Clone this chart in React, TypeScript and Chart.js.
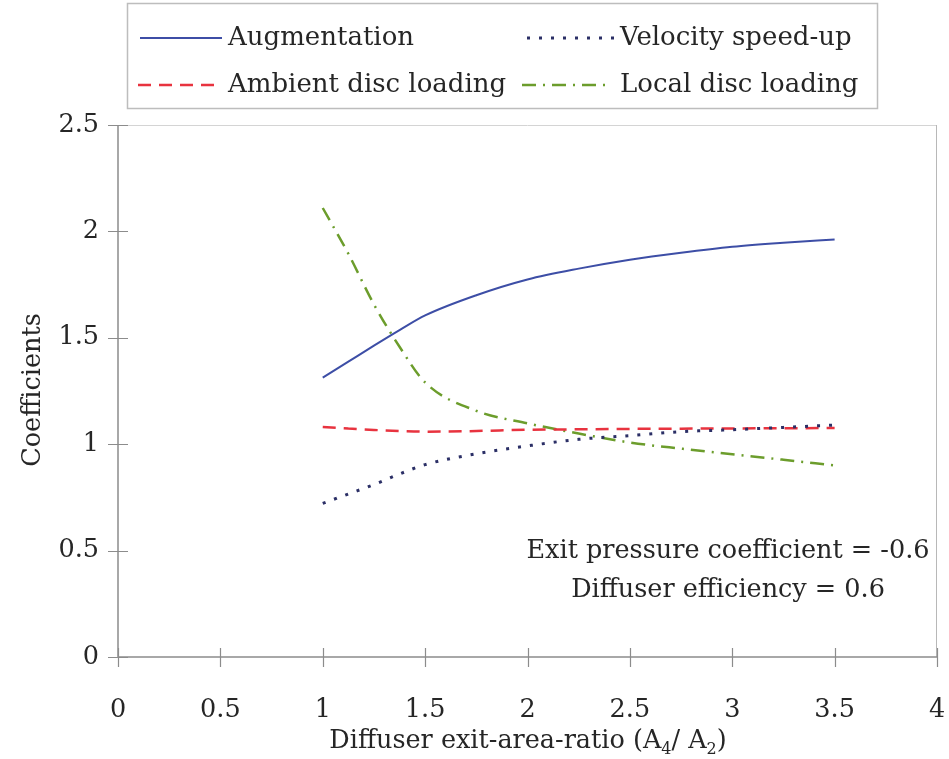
import React, { useEffect, useRef } from "react";
import { Chart, registerables } from "chart.js";

Chart.register(...registerables);

// ---- Data ----
const xValues = [1, 1.125, 1.25, 1.375, 1.5, 1.75, 2, 2.25, 2.5, 2.75, 3, 3.25, 3.5];
const augmentation = [1.313, 1.388, 1.463, 1.536, 1.605, 1.7, 1.774, 1.825, 1.867, 1.9, 1.928, 1.947, 1.962];
const velocitySpeedUp = [0.722, 0.766, 0.81, 0.86, 0.904, 0.955, 0.992, 1.023, 1.04, 1.059, 1.068, 1.079, 1.09];
const ambientDiscLoading = [1.081, 1.074, 1.067, 1.062, 1.059, 1.062, 1.068, 1.07, 1.072, 1.073, 1.074, 1.075, 1.076];
const localDiscLoading = [2.11, 1.895, 1.657, 1.458, 1.29, 1.157, 1.098, 1.05, 1.008, 0.979, 0.953, 0.927, 0.9];

const seriesLabels = ["Augmentation", "Velocity speed-up", "Ambient disc loading", "Local disc loading"];
const xTickValues = [0, 0.5, 1, 1.5, 2, 2.5, 3, 3.5, 4];
const yTickValues = [0, 0.5, 1, 1.5, 2, 2.5];
const annotationLines = ["Exit pressure coefficient = -0.6", "Diffuser efficiency = 0.6"];
const yTitle = "Coefficients";
const xTitleParts = ["Diffuser exit-area-ratio (A", "4", "/ A", "2", ")"];

const FONT_FAMILY = '"DejaVu Serif", serif';
const TEXT_COLOR = "#262626";

const decorPlugin = {
  id: "decor",
  beforeDatasetsDraw(chart: any) {
    const { ctx, chartArea } = chart;
    const { left, right, top, bottom } = chartArea;
    ctx.save();
    // plot frame (light top/right)
    ctx.strokeStyle = "#d4d4d4";
    ctx.lineWidth = 1;
    ctx.beginPath();
    ctx.moveTo(left, top + 0.5);
    ctx.lineTo(right, top + 0.5);
    ctx.stroke();
    ctx.strokeStyle = "#b8b8b8";
    ctx.beginPath();
    ctx.moveTo(right - 0.5, top);
    ctx.lineTo(right - 0.5, bottom);
    ctx.stroke();
    // axes
    ctx.strokeStyle = "#8c8c8c";
    ctx.lineWidth = 1.5;
    ctx.beginPath();
    ctx.moveTo(left, top);
    ctx.lineTo(left, bottom);
    ctx.moveTo(left, bottom);
    ctx.lineTo(right, bottom);
    ctx.stroke();
    // crossing tick marks
    const xs = chart.scales.x;
    const ys = chart.scales.y;
    ctx.lineWidth = 1.2;
    ctx.beginPath();
    xTickValues.forEach((v) => {
      const px = Math.round(xs.getPixelForValue(v)) + 0.5;
      ctx.moveTo(px, bottom - 9);
      ctx.lineTo(px, bottom + 10);
    });
    yTickValues.forEach((v) => {
      const py = Math.round(ys.getPixelForValue(v)) + 0.5;
      ctx.moveTo(left - 10, py);
      ctx.lineTo(left + 10, py);
    });
    ctx.stroke();
    ctx.restore();
  },
  afterDraw(chart: any) {
    const { ctx, chartArea } = chart;
    ctx.save();
    ctx.fillStyle = TEXT_COLOR;
    const big = `25.5px ${FONT_FAMILY}`;
    const legendFont = `26px ${FONT_FAMILY}`;
    const small = `16px ${FONT_FAMILY}`;

    // y title
    ctx.font = big;
    ctx.save();
    ctx.translate(33, 390);
    ctx.rotate(-Math.PI / 2);
    ctx.textAlign = "center";
    ctx.textBaseline = "middle";
    ctx.fillText(yTitle, 0, 0);
    ctx.restore();

    // x title with subscripts
    const widths = xTitleParts.map((p, i) => {
      ctx.font = i % 2 === 1 ? small : big;
      return ctx.measureText(p).width;
    });
    const total = widths.reduce((a, b) => a + b, 0);
    let cx = 528 - total / 2;
    const baseY = 748;
    ctx.textAlign = "left";
    ctx.textBaseline = "alphabetic";
    xTitleParts.forEach((p, i) => {
      const sub = i % 2 === 1;
      ctx.font = sub ? small : big;
      ctx.fillText(p, cx, baseY + (sub ? 6 : 0));
      cx += widths[i];
    });

    // annotation
    ctx.font = big;
    ctx.textAlign = "center";
    ctx.textBaseline = "middle";
    ctx.fillText(annotationLines[0], 728, 551);
    ctx.fillText(annotationLines[1], 728, 590);

    // legend box
    ctx.strokeStyle = "#bdbdbd";
    ctx.lineWidth = 1.5;
    ctx.strokeRect(127.5, 3.5, 750, 105);

    const slots = [
      { x0: 140, x1: 222, tx: 228, y: 38 },
      { x0: 527, x1: 615, tx: 620, y: 38 },
      { x0: 138, x1: 222, tx: 228, y: 85 },
      { x0: 522, x1: 612, tx: 620, y: 85 },
    ];
    chart.data.datasets.forEach((ds: any, i: number) => {
      const s = slots[i];
      ctx.save();
      ctx.strokeStyle = ds.borderColor;
      ctx.lineWidth = ds.borderWidth;
      ctx.setLineDash(ds.borderDash || []);
      ctx.lineCap = "butt";
      ctx.beginPath();
      ctx.moveTo(s.x0, s.y);
      ctx.lineTo(s.x1, s.y);
      ctx.stroke();
      ctx.restore();
      ctx.font = legendFont;
      ctx.fillStyle = TEXT_COLOR;
      ctx.textAlign = "left";
      ctx.textBaseline = "middle";
      ctx.fillText(ds.label, s.tx, s.y);
    });
    ctx.restore();
  },
};

export default function App() {
  const canvasRef = useRef<HTMLCanvasElement | null>(null);

  useEffect(() => {
    if (!canvasRef.current) return;
    const mk = (vals: number[]) => xValues.map((x, i) => ({ x, y: vals[i] }));
    const chart = new Chart(canvasRef.current, {
      type: "line",
      data: {
        datasets: [
          {
            label: seriesLabels[0],
            data: mk(augmentation),
            borderColor: "#3d4ea6",
            borderWidth: 2,
            borderDash: [],
            pointRadius: 0,
            cubicInterpolationMode: "monotone",
          },
          {
            label: seriesLabels[1],
            data: mk(velocitySpeedUp),
            borderColor: "#2b2f66",
            borderWidth: 3,
            borderDash: [3, 9],
            pointRadius: 0,
            cubicInterpolationMode: "monotone",
          },
          {
            label: seriesLabels[2],
            data: mk(ambientDiscLoading),
            borderColor: "#e8333f",
            borderWidth: 2.5,
            borderDash: [13, 8],
            pointRadius: 0,
            cubicInterpolationMode: "monotone",
          },
          {
            label: seriesLabels[3],
            data: mk(localDiscLoading),
            borderColor: "#6c9d2c",
            borderWidth: 2.5,
            borderDash: [14, 7, 2, 7],
            pointRadius: 0,
            cubicInterpolationMode: "monotone",
          },
        ] as any,
      },
      options: {
        responsive: false,
        animation: false,
        layout: { padding: { top: 125, right: 12, left: 0, bottom: 0 } },
        plugins: { legend: { display: false }, tooltip: { enabled: false } },
        scales: {
          x: {
            type: "linear",
            min: 0,
            max: 4,
            afterBuildTicks: (scale: any) => {
              scale.ticks = xTickValues.map((v) => ({ value: v }));
            },
            afterFit: (scale: any) => {
              scale.height = 102;
              scale.paddingLeft = 0;
              scale.paddingRight = 0;
            },
            grid: { display: false, drawTicks: false },
            border: { display: false },
            ticks: {
              padding: 38,
              color: TEXT_COLOR,
              font: { family: FONT_FAMILY, size: 25.5 },
              maxRotation: 0,
              autoSkip: false,
              callback: (v: any) => String(v),
            },
          },
          y: {
            type: "linear",
            min: 0,
            max: 2.5,
            afterBuildTicks: (scale: any) => {
              scale.ticks = yTickValues.map((v) => ({ value: v }));
            },
            afterFit: (scale: any) => {
              scale.width = 118;
              scale.paddingTop = 0;
              scale.paddingBottom = 0;
            },
            grid: { display: false, drawTicks: false },
            border: { display: false },
            ticks: {
              padding: 19,
              color: TEXT_COLOR,
              font: { family: FONT_FAMILY, size: 25.5 },
              autoSkip: false,
              callback: (v: any) => String(v),
            },
          },
        },
      } as any,
      plugins: [decorPlugin],
    });
    return () => chart.destroy();
  }, []);

  return (
    <div style={{ position: "fixed", left: 0, top: 0, width: 949, height: 759, background: "#fff" }}>
      <canvas ref={canvasRef} width={949} height={759} />
    </div>
  );
}
